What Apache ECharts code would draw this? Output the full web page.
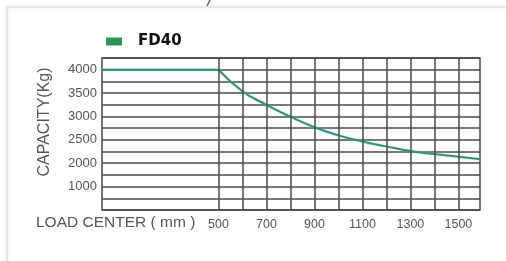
<!DOCTYPE html>
<html>
<head>
<meta charset="utf-8">
<script src="https://cdn.jsdelivr.net/npm/echarts@6/dist/echarts.min.js"></script>
<style>
html,body{margin:0;padding:0;background:#fff;}
#c{width:506px;height:261px;}
</style>
</head>
<body>
<div id="c"></div>
<script>
// ---- data ----
var seriesName = 'FD40';
var loadCenter = [0, 500, 600, 700, 800, 900, 1000, 1100, 1200, 1300, 1400, 1500, 1600];
var capacity   = [4000, 4000, 3540, 3250, 2995, 2770, 2595, 2465, 2360, 2260, 2195, 2140, 2080];
var ratedLoadCenter = 500;
var xTickLabels = [500, 700, 900, 1100, 1300, 1500];
var xGridLines  = [500, 600, 700, 800, 900, 1000, 1100, 1200, 1300, 1400, 1500];
var yTickValues = [4000, 3500, 3000, 2500, 2000, 1500];
var yTickLabels = ['4000', '3500', '3000', '2500', '2000', '1000'];
var xTitle = 'LOAD CENTER ( mm )';
var yTitle = 'CAPACITY(Kg)';

var chart = echarts.init(document.getElementById('c'), null, {renderer: 'canvas'});
var gridColor = '#4a4a4a';
var font = 'Liberation Sans';
var pts = loadCenter.map(function (x, i) { return [x, capacity[i]]; });
var flatPart = pts.filter(function (p) { return p[0] <= ratedLoadCenter; });
var curvePart = pts.filter(function (p) { return p[0] >= ratedLoadCenter; });
var lineStyle = {color: '#3d8b76', width: 2, shadowColor: 'rgba(120,230,210,0.6)', shadowBlur: 3};

var option = {
  backgroundColor: '#fff',
  animation: false,
  legend: {
    left: 106, top: 34, padding: 0,
    icon: 'rect', itemWidth: 16, itemHeight: 8,
    data: [{name: seriesName, itemStyle: {color: '#2a9455'}}],
    textStyle: {fontFamily: 'DejaVu Sans', fontWeight: 'bold', fontSize: 15, color: '#111', padding: [0, 0, 0, 11]}
  },
  grid: {
    left: 102, right: 26, top: 58, bottom: 51,
    show: true, borderColor: gridColor, borderWidth: 1.5, backgroundColor: 'transparent'
  },
  xAxis: {
    type: 'value', min: 15, max: 1590,
    axisLine: {show: false}, axisTick: {show: false}, splitLine: {show: false},
    axisLabel: {customValues: xTickLabels, margin: 8, fontSize: 12.5, color: '#555', fontFamily: font,
      formatter: function (v) { return String(v); }}
  },
  yAxis: {
    type: 'value', min: 1000, max: 4250, interval: 250,
    axisLine: {show: false}, axisTick: {show: false},
    splitLine: {show: true, lineStyle: {color: gridColor, width: 1.5}},
    axisLabel: {
      margin: 5, fontSize: 13, color: '#555', fontFamily: font,
      formatter: function (v) {
        var i = yTickValues.indexOf(v);
        return i >= 0 ? yTickLabels[i] : '';
      }
    }
  },
  graphic: [
    {type: 'line', shape: {x1: 7, y1: 7, x2: 506, y2: 7}, style: {stroke: '#e2e2e2', lineWidth: 1.5, shadowColor: 'rgba(0,0,0,0.12)', shadowBlur: 4}},
    {type: 'line', shape: {x1: 7, y1: 7, x2: 7, y2: 261}, style: {stroke: '#dcdcdc', lineWidth: 1.5, shadowColor: 'rgba(0,0,0,0.15)', shadowBlur: 4}},
    {type: 'line', shape: {x1: 210, y1: 0, x2: 207, y2: 6}, style: {stroke: '#666', lineWidth: 1.5}},
    {type: 'text', left: 36, top: 215, style: {text: xTitle, fontSize: 15.5, fill: '#555', fontFamily: font}},
    {type: 'text', x: 45, y: 122, rotation: Math.PI / 2,
      style: {text: yTitle, fontSize: 16, fill: '#555', fontFamily: font, align: 'center', verticalAlign: 'middle'}}
  ],
  series: [{
    name: seriesName,
    type: 'line',
    data: flatPart,
    showSymbol: false,
    lineStyle: lineStyle,
    itemStyle: {color: '#2a9455'},
    markLine: {
      silent: true, symbol: 'none', label: {show: false},
      lineStyle: {color: gridColor, width: 1.5, type: 'solid'},
      data: xGridLines.map(function (v) { return {xAxis: v}; })
    }
  }, {
    name: seriesName,
    type: 'line',
    data: curvePart,
    showSymbol: false,
    smooth: 0.5,
    lineStyle: lineStyle,
    itemStyle: {color: '#2a9455'}
  }]
};
chart.setOption(option);
</script>
</body>
</html>
